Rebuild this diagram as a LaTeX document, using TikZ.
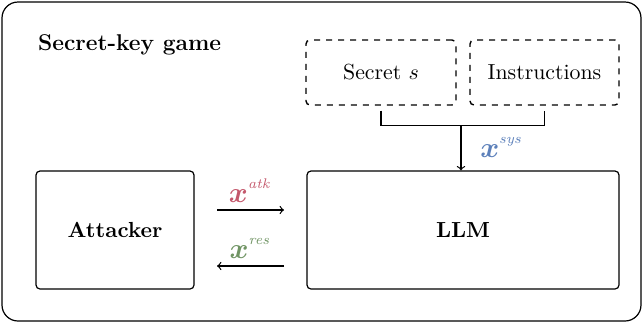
\documentclass[tikz,border=0pt]{standalone}
\usepackage{xcolor}
\usepackage{amsmath, amssymb}
\usepackage{tikz}
\usetikzlibrary{positioning}

\definecolor{atkcol}{RGB}{196,88,108}
\definecolor{rescol}{RGB}{112,148,100}
\definecolor{syscol}{RGB}{92,128,186}

\newcommand{\msg}[1]{\(\boldsymbol{x}^{\raisebox{2pt}{\(\scriptscriptstyle\mathit{#1}\)}}\)}

\tikzset{
  gamebox/.style={draw, rounded corners=2pt, line width=0.6pt, minimum height=59pt},
  inputbox/.style={draw, dashed, rounded corners=2pt, line width=0.7pt,
    minimum width=75pt, minimum height=32.5pt},
  msglabel/.style={midway, above=0pt, font=\Large},
}

\begin{document}
\begin{tikzpicture}[x=0.5pt, y=-0.5pt, >=to, font=\fontsize{10.9}{13}\selectfont]
        \useasboundingbox (0, 0) rectangle (644, 323);
        \draw[rounded corners=8pt, line width=0.6pt] (2, 2) rectangle (641, 321);
        \node[anchor=west, font=\fontsize{11.4}{14}\selectfont\bfseries] (title) at (31, 45) {Secret-key game};

        \node[inputbox] (secret) at (381, 72.5) {Secret \(s\)};
        \node[inputbox, minimum width=74.5pt] (instr) at (544.5, 72.5) {Instructions};

        \node[gamebox, minimum width=79pt, font=\fontsize{10.9}{13}\selectfont\bfseries] (attacker) at (115, 230) {Attacker};
        \node[gamebox, minimum width=156pt, font=\fontsize{10.9}{13}\selectfont\bfseries] (llm) at (463, 230) {LLM};

        \draw[line width=0.6pt] ([yshift=-2.5pt]secret.south) -- ++(0, 15) coordinate (bl)
          -- (bl -| instr.south) -- ([yshift=-2.5pt]instr.south);
        \coordinate (brk) at (461, 125);
        \draw[->, line width=0.6pt] (brk) -- (brk |- llm.north) node[midway, right=6pt, font=\Large, text=syscol]
          {\msg{sys}};

        \coordinate (atkL) at (217, 210);
        \coordinate (atkR) at (284, 210);
        \coordinate (resL) at (217, 266);
        \coordinate (resR) at (284, 266);
        \draw[->, line width=0.6pt] (atkL) -- (atkR) node[msglabel, text=atkcol] {\msg{atk}};
        \draw[->, line width=0.6pt] (resR) -- (resL) node[msglabel, text=rescol] {\msg{res}};
      \end{tikzpicture}
\end{document}
